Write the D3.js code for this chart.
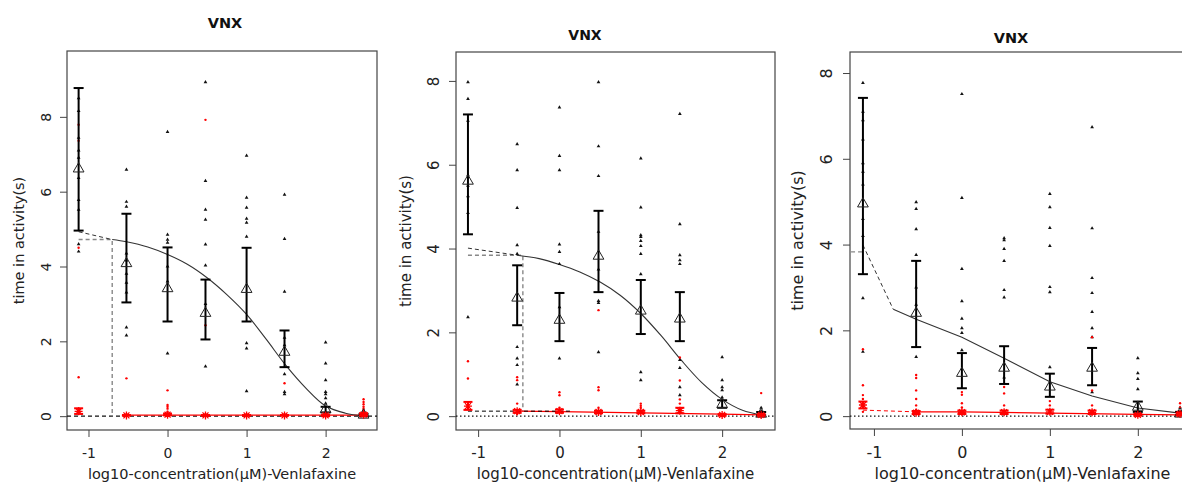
<!DOCTYPE html>
<html>
<head>
<meta charset="utf-8">
<script src="https://cdn.jsdelivr.net/npm/d3@7"></script>
<style>
	body { margin: 0; background: #fff; }
	text { font-family: "DejaVu Sans", sans-serif; fill: #222; }
</style>
</head>
<body>
<svg width="1182" height="484"></svg>
<script>
// doses on log10 scale (first one is the control, drawn left of the lowest dose)
const doses = [-1.125, -0.52, 0, 0.48, 1, 1.48, 2, 2.48]
const xTicks = [-1, 0, 1, 2]
const yTicks = [0, 2, 4, 6, 8]
const titleText = "VNX"
const xLabel = "log10-concentration(\u00b5M)-Venlafaxine"
const yLabel = "time in activity(s)"

// ---- panel A ----
const meanA = [6.61, 4.08, 3.41, 2.75, 3.39, 1.71, 0.18, 0.03]
const hiA = [8.77, 5.41, 4.51, 3.65, 4.50, 2.29, 0.25, 0.06]
const loA = [4.96, 3.04, 2.53, 2.05, 2.53, 1.31, 0.10, 0.00]
const redMeanA = [0.13, 0.02, 0.04, 0.02, 0.02, 0.02, 0.02, 0.04]
const redHiA = [0.21, 0.03, 0.07, 0.03, 0.03, 0.03, 0.04, 0.08]
const redLoA = [0.06, 0.01, 0.02, 0.01, 0.01, 0.01, 0.00, 0.01]
const ptsA = [
	[8.16, 7.44, 6.91, 6.37, 5.78, 5.52, 4.6, 4.4, 8.5, 7.1],
	[6.59, 5.73, 5.6, 4.35, 4.16, 3.81, 3.57, 3.31, 2.37, 2.16],
	[7.6, 4.85, 4.72, 4.64, 4.0, 3.6, 1.68],
	[8.93, 6.29, 5.52, 5.25, 4.59, 4.03, 3.0, 1.33],
	[6.96, 5.84, 5.57, 5.28, 5.17, 4.8, 1.95, 1.81, 0.67],
	[5.92, 4.74, 3.33, 2.1, 1.9, 1.12, 0.65, 0.59],
	[1.97, 1.41, 0.96, 0.65, 0.59, 0.48, 0.34],
	[0.15, 0.1]
]
const redPtsA = [
	[7.79, 7.36, 4.5, 1.04, 0.2, 0.1],
	[1.01, 0.05],
	[0.69, 0.3, 0.25, 0.2, 0.12, 0.08],
	[7.92, 2.43, 0.05],
	[0.05],
	[0.88, 0.05],
	[0.08, 0.05],
	[0.45, 0.38, 0.32, 0.25, 0.2, 0.15, 0.1, 0.05]
]
const curveA = [[-0.7, 4.72], [-0.52, 4.66], [-0.25, 4.52], [0, 4.32], [0.25, 4.06], [0.5, 3.7], [0.75, 3.25], [1, 2.72], [1.25, 2.05], [1.5, 1.35], [1.75, 0.75], [2, 0.27], [2.25, 0.08], [2.48, 0.01]]
const extA = [[-1.125, 4.93], [-0.7, 4.72]]
const guideA = [[-1.125, 4.72], [-0.7, 4.72], [-0.7, 0]]
const redCurveA = [[-0.52, 0.03], [2.48, 0.03]]
const redExtA = []

// ---- panel B ----
const meanB = [5.61, 2.82, 2.29, 3.82, 2.51, 2.32, 0.28, 0.05]
const hiB = [7.2, 3.6, 2.94, 4.9, 3.25, 2.96, 0.38, 0.1]
const loB = [4.34, 2.17, 1.79, 2.96, 1.96, 1.79, 0.2, 0.02]
const redMeanB = [0.24, 0.12, 0.12, 0.1, 0.1, 0.13, 0.03, 0.03]
const redHiB = [0.34, 0.15, 0.16, 0.13, 0.13, 0.2, 0.05, 0.05]
const redLoB = [0.15, 0.08, 0.08, 0.07, 0.07, 0.07, 0.01, 0.01]
const ptsB = [
	[7.97, 7.57, 7.05, 5.75, 5.5, 5.25, 4.85, 2.36],
	[6.49, 5.87, 4.97, 4.08, 3.87, 1.65, 1.38, 1.22, 0.76],
	[7.37, 6.21, 5.87, 4.1, 3.92, 3.63, 2.6, 1.38],
	[7.97, 6.44, 5.73, 4.4, 3.5, 2.75, 2.7, 1.53],
	[6.15, 4.98, 4.32, 4.28, 4.18, 4.06, 3.87, 3.39, 1.05, 0.86],
	[7.21, 4.58, 3.84, 3.72, 3.63, 1.34, 1.15, 0.69, 0.5],
	[1.41, 0.86, 0.69, 0.62, 0.45],
	[0.2, 0.12]
]
const redPtsB = [
	[1.31, 0.9, 0.2],
	[0.93, 0.86, 0.3, 0.05],
	[0.57, 0.5, 0.2],
	[2.53, 0.69, 0.62, 0.2],
	[0.3, 0.25, 0.2],
	[1.4, 0.85, 0.4, 0.3],
	[0.05],
	[0.55, 0.1]
]
const curveB = [[-0.52, 3.84], [-0.25, 3.76], [0, 3.62], [0.25, 3.44], [0.5, 3.2], [0.75, 2.88], [1, 2.45], [1.25, 1.92], [1.5, 1.33], [1.75, 0.8], [2, 0.4], [2.25, 0.14], [2.48, 0.03]]
const extB = [[-1.125, 4.01], [-0.52, 3.84]]
const guideB = [[-1.125, 3.84], [-0.45, 3.84], [-0.45, 0.12]]
const redCurveB = [[-0.52, 0.12], [0, 0.11], [1, 0.08], [2, 0.05], [2.48, 0.03]]
const redExtB = [[-1.125, 0.12], [0.13, 0.12]]

// ---- panel C ----
const meanC = [4.95, 2.4, 1.0, 1.12, 0.68, 1.12, 0.21, 0.05]
const hiC = [7.42, 3.62, 1.47, 1.63, 0.99, 1.59, 0.34, 0.1]
const loC = [3.31, 1.61, 0.65, 0.75, 0.45, 0.72, 0.1, 0.02]
const redMeanC = [0.26, 0.08, 0.09, 0.09, 0.1, 0.09, 0.03, 0.05]
const redHiC = [0.34, 0.12, 0.13, 0.13, 0.15, 0.13, 0.05, 0.08]
const redLoC = [0.18, 0.05, 0.05, 0.05, 0.06, 0.05, 0.01, 0.02]
const ptsC = [
	[7.77, 7.1, 6.9, 6.45, 5.9, 5.7, 5.4, 4.6, 4.2, 2.75, 1.5],
	[4.99, 4.83, 4.36, 3.76, 3.0, 2.6, 1.38],
	[7.51, 5.09, 3.43, 2.68, 2.27, 2.05, 1.94, 1.54],
	[4.15, 4.1, 3.9, 3.62, 2.94, 2.77, 0.9],
	[5.18, 4.87, 4.39, 3.97, 3.01, 2.89, 1.14],
	[6.74, 4.38, 3.22, 2.87, 2.43, 2.05, 1.84, 0.56],
	[1.35, 1.0, 0.87, 0.63],
	[0.2, 0.1]
]
const redPtsC = [
	[1.56, 0.72, 0.49, 0.4, 0.1],
	[0.96, 0.89, 0.6, 0.4, 0.25, 0.15],
	[0.56, 0.5, 0.3, 0.2],
	[0.68, 0.53, 0.25],
	[0.35, 0.25],
	[1.84, 0.6, 0.25],
	[0.05],
	[0.3, 0.2]
]
const curveC = [[-0.78, 2.49], [-0.52, 2.26], [0, 1.84], [0.48, 1.35], [1, 0.8], [1.48, 0.47], [2, 0.19], [2.48, 0.07]]
const extC = [[-1.125, 3.99], [-0.78, 2.49]]
const guideC = [[-1.26, 3.83], [-1.125, 3.83]]
const redCurveC = [[-0.52, 0.1], [0, 0.1], [1, 0.07], [2, 0.04], [2.48, 0.03]]
const redExtC = [[-1.125, 0.14], [-0.52, 0.1]]

// layout of the three panels (pixels)
const panels = [
	{ left: 67, right: 377, top: 51, bottom: 430, yDom: [-0.37, 9.76], titleX: 225, titleY: 28, tickFs: 14, labFs: 14.5, titleFs: 14.5, yTickOff: 16, yLabX: 24, zeroDash: "4,3", smooth: true,
		mean: meanA, hi: hiA, lo: loA, redMean: redMeanA, redHi: redHiA, redLo: redLoA, pts: ptsA, redPts: redPtsA, curve: curveA, ext: extA, guide: guideA, redCurve: redCurveA, redExt: redExtA, redExtColor: "#000" },
	{ left: 456, right: 775, top: 52, bottom: 430, yDom: [-0.33, 8.69], titleX: 585, titleY: 40, tickFs: 15, labFs: 15, titleFs: 14, yTickOff: 17, yLabX: 411, zeroDash: "1.5,2.5", smooth: true,
		mean: meanB, hi: hiB, lo: loB, redMean: redMeanB, redHi: redHiB, redLo: redLoB, pts: ptsB, redPts: redPtsB, curve: curveB, ext: extB, guide: guideB, redCurve: redCurveB, redExt: redExtB, redExtColor: "#000" },
	{ left: 850, right: 1195, top: 52, bottom: 429, yDom: [-0.3, 8.49], titleX: 1011, titleY: 43, tickFs: 16, labFs: 16, titleFs: 14.5, yTickOff: 18, yLabX: 803, zeroDash: "1.5,2.5", smooth: false,
		mean: meanC, hi: hiC, lo: loC, redMean: redMeanC, redHi: redHiC, redLo: redLoC, pts: ptsC, redPts: redPtsC, curve: curveC, ext: extC, guide: guideC, redCurve: redCurveC, redExt: redExtC, redExtColor: "#f00" }
]

const svg = d3.select("svg")

panels.forEach(p => {
	const x = d3.scaleLinear().domain([-1.272, 2.65]).range([p.left, p.right])
	const y = d3.scaleLinear().domain(p.yDom).range([p.bottom, p.top])
	const g = svg.append("g")
	const line = d3.line().x(d => x(d[0])).y(d => y(d[1]))
	const smoothLine = d3.line().x(d => x(d[0])).y(d => y(d[1])).curve(p.smooth ? d3.curveCatmullRom : d3.curveLinear)

	// title
	g.append("text")
		.attr("x", p.titleX)
		.attr("y", p.titleY)
		.attr("text-anchor", "middle")
		.style("font-size", p.titleFs + "px")
		.style("font-weight", "bold")
		.style("fill", "#111")
		.text(titleText)

	// x axis
	const xAxis = g.append("g")
		.attr("transform", "translate(0," + p.bottom + ")")
		.call(d3.axisBottom(x).tickValues(xTicks).tickSize(7).tickFormat(d3.format("d")))
	xAxis.select(".domain").remove()
	xAxis.selectAll("line").attr("stroke", "#444")
	xAxis.selectAll("text")
		.attr("y", 458 - p.bottom)
		.attr("dy", null)
		.style("font-size", p.tickFs + "px")
		.style("font-family", "DejaVu Sans")
		.style("fill", "#222")
		.text(d => d < 0 ? "-" + Math.abs(d) : d)

	// y axis, labels turned like base R
	const yAxis = g.append("g")
		.attr("transform", "translate(" + p.left + ",0)")
		.call(d3.axisLeft(y).tickValues(yTicks).tickSize(7))
	yAxis.select(".domain").remove()
	yAxis.selectAll("line").attr("stroke", "#444")
	yAxis.selectAll("text")
		.attr("x", null)
		.attr("dy", null)
		.attr("text-anchor", "middle")
		.attr("transform", "translate(" + (-p.yTickOff) + ",0) rotate(-90)")
		.style("font-size", p.tickFs + "px")
		.style("font-family", "DejaVu Sans")
		.style("fill", "#222")

	// axis titles
	g.append("text")
		.attr("x", (p.left + p.right) / 2)
		.attr("y", 479)
		.attr("text-anchor", "middle")
		.style("font-size", p.labFs + "px")
		.text(xLabel)

	g.append("text")
		.attr("transform", "translate(" + p.yLabX + "," + (p.top + p.bottom) / 2 + ") rotate(-90)")
		.attr("text-anchor", "middle")
		.style("font-size", p.labFs + "px")
		.text(yLabel)

	// plot box
	g.append("rect")
		.attr("x", p.left)
		.attr("y", p.top)
		.attr("width", p.right - p.left)
		.attr("height", p.bottom - p.top)
		.attr("fill", "none")
		.attr("stroke", "#444")
		.attr("stroke-width", 1.2)

	// zero reference line
	g.append("path")
		.attr("d", line([[-1.272, 0], [2.65, 0]]))
		.attr("stroke", "#111")
		.attr("stroke-width", 1.2)
		.attr("stroke-dasharray", p.zeroDash)
		.attr("fill", "none")

	// guide lines (gray dashed) and extrapolation to the control
	g.append("path")
		.attr("d", line(p.guide))
		.attr("stroke", "#888")
		.attr("stroke-width", 1.4)
		.attr("stroke-dasharray", "4,3")
		.attr("fill", "none")

	g.append("path")
		.attr("d", line(p.ext))
		.attr("stroke", "#333")
		.attr("stroke-width", 1)
		.attr("stroke-dasharray", "4,3")
		.attr("fill", "none")

	// red fit and its extension
	g.append("path")
		.attr("d", line(p.redCurve))
		.attr("stroke", "#f00")
		.attr("stroke-width", 1.2)
		.attr("fill", "none")

	if (p.redExt.length) {
		g.append("path")
			.attr("d", line(p.redExt))
			.attr("stroke", p.redExtColor)
			.attr("stroke-width", 1)
			.attr("stroke-dasharray", "4,3")
			.attr("fill", "none")
	}

	// black fit
	g.append("path")
		.attr("d", smoothLine(p.curve))
		.attr("stroke", "#333")
		.attr("stroke-width", 1.1)
		.attr("fill", "none")

	// single observations
	const blackPts = p.pts.flatMap((vals, i) => vals.map(v => [doses[i], v]))
	const redPts = p.redPts.flatMap((vals, i) => vals.map(v => [doses[i], v]))

	g.selectAll(".pt")
		.data(blackPts)
		.enter()
		.append("path")
		.attr("class", "pt")
		.attr("transform", d => "translate(" + x(d[0]) + "," + y(d[1]) + ")")
		.attr("d", d3.symbol(d3.symbolTriangle, 6))
		.attr("fill", "#111")

	g.selectAll(".rpt")
		.data(redPts)
		.enter()
		.append("circle")
		.attr("class", "rpt")
		.attr("cx", d => x(d[0]))
		.attr("cy", d => y(d[1]))
		.attr("r", 1.2)
		.attr("fill", "#f00")

	// black error bars and means
	const groups = g.selectAll(".dose")
		.data(doses)
		.enter()
		.append("g")
		.attr("class", "dose")

	groups.append("line")
		.attr("x1", d => x(d)).attr("x2", d => x(d))
		.attr("y1", (d, i) => y(p.lo[i])).attr("y2", (d, i) => y(p.hi[i]))
		.attr("stroke", "#000").attr("stroke-width", 2)

	groups.append("line")
		.attr("x1", d => x(d) - 5).attr("x2", d => x(d) + 5)
		.attr("y1", (d, i) => y(p.hi[i])).attr("y2", (d, i) => y(p.hi[i]))
		.attr("stroke", "#000").attr("stroke-width", 2)

	groups.append("line")
		.attr("x1", d => x(d) - 5).attr("x2", d => x(d) + 5)
		.attr("y1", (d, i) => y(p.lo[i])).attr("y2", (d, i) => y(p.lo[i]))
		.attr("stroke", "#000").attr("stroke-width", 2)

	groups.append("path")
		.attr("transform", (d, i) => "translate(" + x(d) + "," + y(p.mean[i]) + ")")
		.attr("d", d3.symbol(d3.symbolTriangle, 50))
		.attr("fill", "none")
		.attr("stroke", "#222")
		.attr("stroke-width", 1)

	// red error bars and asterisk means
	groups.append("line")
		.attr("x1", d => x(d)).attr("x2", d => x(d))
		.attr("y1", (d, i) => y(p.redLo[i])).attr("y2", (d, i) => y(p.redHi[i]))
		.attr("stroke", "#f00").attr("stroke-width", 2)

	groups.append("line")
		.attr("x1", d => x(d) - 4.5).attr("x2", d => x(d) + 4.5)
		.attr("y1", (d, i) => y(p.redHi[i])).attr("y2", (d, i) => y(p.redHi[i]))
		.attr("stroke", "#f00").attr("stroke-width", 2)

	groups.append("line")
		.attr("x1", d => x(d) - 4.5).attr("x2", d => x(d) + 4.5)
		.attr("y1", (d, i) => y(p.redLo[i])).attr("y2", (d, i) => y(p.redLo[i]))
		.attr("stroke", "#f00").attr("stroke-width", 2)

	groups.append("path")
		.attr("transform", (d, i) => "translate(" + x(d) + "," + y(p.redMean[i]) + ")")
		.attr("d", "M-4,0H4M0,-4V4M-3,-3L3,3M-3,3L3,-3")
		.attr("stroke", "#f00")
		.attr("stroke-width", 1.3)
		.attr("fill", "none")
})
</script>
</body>
</html>
